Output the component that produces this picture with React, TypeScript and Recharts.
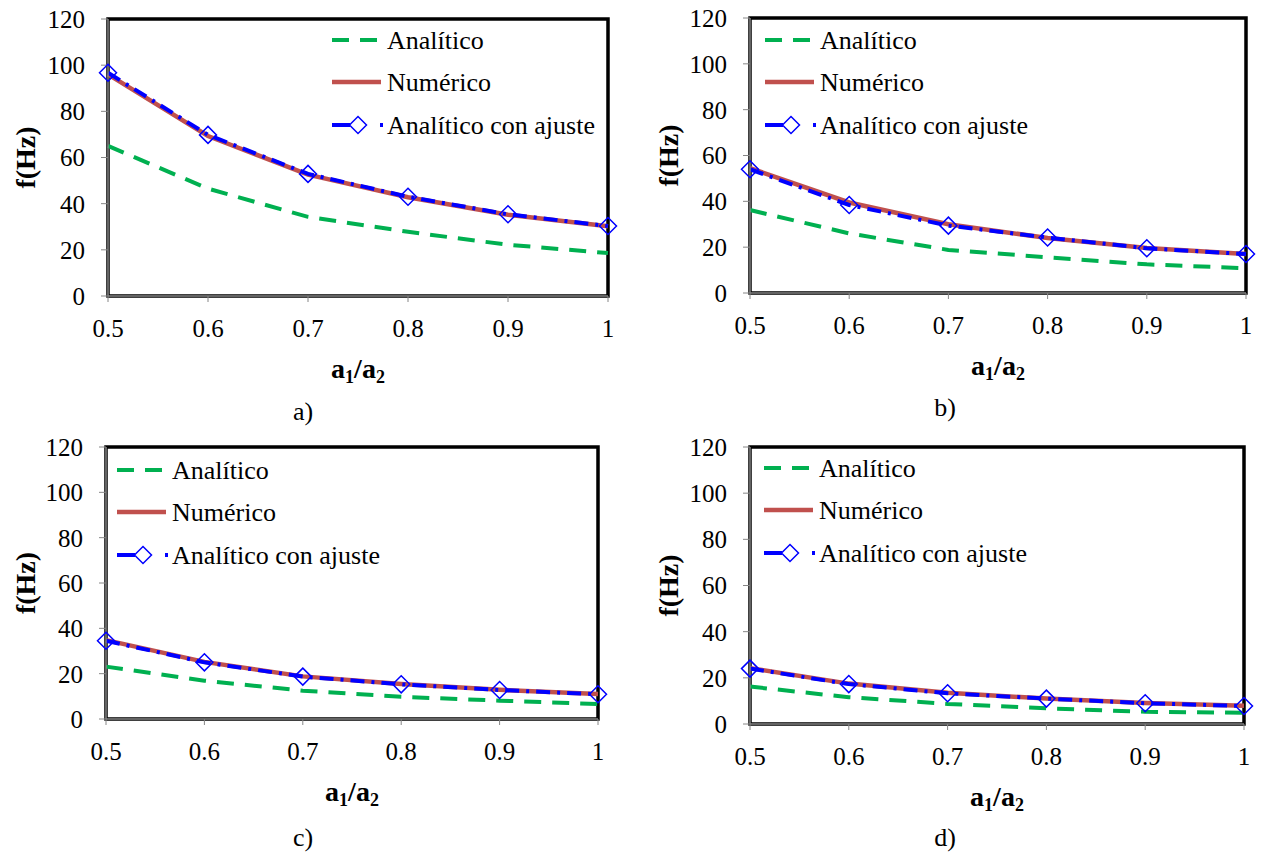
import React from 'react';
import { LineChart, Line, XAxis, YAxis, Legend, ReferenceArea, Label } from 'recharts';

// eje x: a1/a2
const ratio = [0.5, 0.6, 0.7, 0.8, 0.9, 1];
const yTicks = [0, 20, 40, 60, 80, 100, 120];

// a)
const analiticoA = [65, 46.5, 34.3, 27.8, 22.2, 18.6];
const numericoA = [96, 69.3, 52.6, 42.8, 35.2, 30.2];
const ajusteA = [96.7, 69.8, 52.9, 43, 35.4, 30.3];

// b)
const analiticoB = [36.2, 26, 18.8, 15.6, 12.5, 10.8];
const numericoB = [54.5, 39.5, 30, 24, 19.6, 17];
const ajusteB = [54, 38.4, 29.4, 24.2, 19.5, 17];

// c)
const analiticoC = [23.1, 16.9, 12.5, 9.8, 8.1, 6.6];
const numericoC = [34.8, 25.2, 18.8, 15.4, 12.9, 11];
const ajusteC = [34.5, 25, 18.7, 15.3, 12.8, 10.9];

// d)
const analiticoD = [16.2, 11.6, 8.7, 6.8, 5.3, 4.9];
const numericoD = [24.2, 17.5, 13.5, 11, 9.1, 7.9];
const ajusteD = [24, 17.3, 13.3, 11, 9, 7.8];

const seriesNames = ['Analítico', 'Numérico', 'Analítico con ajuste'];

const FONT = "'Liberation Serif', 'Times New Roman', serif";
const GREEN = '#00B050';
const RED = '#C0504D';
const BLUE = '#0000FF';
const AXIS = '#868686';

const W = 631;
const H = 428;

function buildRows(an: number[], nu: number[], aj: number[]) {
  return ratio.map((r, i) => ({ ratio: r, analitico: an[i], numerico: nu[i], ajuste: aj[i] }));
}

const Diamond = (props: any) => {
  const { cx, cy } = props;
  if (cx == null || cy == null) return null;
  const s = 8.5;
  return (
    <path
      d={`M${cx},${cy - s}L${cx + s},${cy}L${cx},${cy + s}L${cx - s},${cy}Z`}
      fill="none"
      stroke={BLUE}
      strokeWidth={1.5}
    />
  );
};

function LegendBox() {
  const rowY = [21, 63, 106];
  return (
    <svg width={330} height={130} style={{ display: 'block', overflow: 'visible', fontFamily: FONT }}>
      <line x1={0} x2={46} y1={rowY[0]} y2={rowY[0]} stroke={GREEN} strokeWidth={4} strokeDasharray="17 11" />
      <line x1={0} x2={49} y1={rowY[1]} y2={rowY[1]} stroke={RED} strokeWidth={4.5} />
      <line x1={0} x2={51} y1={rowY[2]} y2={rowY[2]} stroke={BLUE} strokeWidth={4} strokeDasharray="18 30 3" />
      <Diamond cx={26} cy={rowY[2]} />
      {seriesNames.map((n, i) => (
        <text key={n} x={55} y={rowY[i]} dominantBaseline="central" style={{ fontFamily: FONT, fontSize: 26 }} fill="#000">
          {n}
        </text>
      ))}
    </svg>
  );
}

interface PanelCfg {
  x: number;
  y: number;
  left: number;
  right: number;
  top: number;
  bottom: number;
  legendX: number;
  legendY: number;
  yLabelX: number;
  caption: string;
  captionX: number;
  captionY: number;
  rows: any[];
}

const tickStyle = { fill: '#000', fontSize: 25, fontFamily: FONT, style: { fontFamily: FONT } };

function Panel({ cfg }: { cfg: PanelCfg }) {
  const midX = (cfg.left + cfg.right) / 2;
  const midY = (cfg.top + cfg.bottom) / 2;
  return (
    <div style={{ position: 'absolute', left: cfg.x, top: cfg.y, width: W, height: H }}>
      <LineChart
        width={W}
        height={H}
        data={cfg.rows}
        margin={{ top: cfg.top, right: W - cfg.right, left: 0, bottom: H - cfg.bottom - 40 }}
        style={{ fontFamily: FONT }}
      >
        <XAxis
          type="number"
          dataKey="ratio"
          domain={[0.5, 1]}
          ticks={ratio}
          height={40}
          tickSize={6}
          tickMargin={17}
          axisLine={{ stroke: AXIS, strokeWidth: 1.5 }}
          tickLine={{ stroke: AXIS }}
          tick={tickStyle}
          tickFormatter={(v) => String(v)}
        >
          <Label
            content={() => (
              <g style={{ fontFamily: FONT }} fill="#000">
                <text x={midX} y={cfg.bottom + 82} textAnchor="middle" style={{ fontFamily: FONT, fontWeight: 'bold', fontSize: 28 }}>
                  a<tspan fontSize={18} dy={5}>1</tspan>
                  <tspan dy={-5}>/a</tspan>
                  <tspan fontSize={18} dy={5}>2</tspan>
                </text>
                <text x={cfg.captionX} y={cfg.captionY} textAnchor="middle" style={{ fontFamily: FONT, fontSize: 26 }}>
                  {cfg.caption}
                </text>
              </g>
            )}
          />
        </XAxis>
        <YAxis
          type="number"
          domain={[0, 120]}
          ticks={yTicks}
          width={cfg.left}
          tickSize={7}
          tickMargin={16}
          axisLine={{ stroke: AXIS, strokeWidth: 1.5 }}
          tickLine={{ stroke: AXIS }}
          tick={tickStyle}
        >
          <Label
            content={() => (
              <text
                x={cfg.yLabelX}
                y={midY}
                transform={`rotate(-90 ${cfg.yLabelX} ${midY})`}
                textAnchor="middle"
                dominantBaseline="central"
                style={{ fontFamily: FONT, fontWeight: 'bold', fontSize: 28 }}
                fill="#000"
              >
                f(Hz)
              </text>
            )}
          />
        </YAxis>
        <ReferenceArea x1={0.5} x2={1} y1={0} y2={120} fill="none" fillOpacity={0} stroke="#000" strokeWidth={3.5} />
        <Legend
          layout="vertical"
          align="center"
          verticalAlign="middle"
          content={() => <LegendBox />}
          wrapperStyle={{ left: cfg.legendX, top: cfg.legendY, width: 330, height: 130 }}
        />
        <Line
          type="linear"
          dataKey="analitico"
          name={seriesNames[0]}
          stroke={GREEN}
          strokeWidth={4}
          strokeDasharray="17 11"
          dot={false}
          activeDot={false}
          isAnimationActive={false}
        />
        <Line
          type="linear"
          dataKey="numerico"
          name={seriesNames[1]}
          stroke={RED}
          strokeWidth={4.5}
          dot={false}
          activeDot={false}
          isAnimationActive={false}
        />
        <Line
          type="linear"
          dataKey="ajuste"
          name={seriesNames[2]}
          stroke={BLUE}
          strokeWidth={4}
          strokeDasharray="14 7 3 7"
          dot={<Diamond />}
          activeDot={false}
          isAnimationActive={false}
        />
      </LineChart>
    </div>
  );
}

const panels: PanelCfg[] = [
  {
    x: 0, y: 0, left: 108, right: 608, top: 19, bottom: 296,
    legendX: 332, legendY: 19, yLabelX: 25,
    caption: 'a)', captionX: 303, captionY: 420,
    rows: buildRows(analiticoA, numericoA, ajusteA),
  },
  {
    x: 631, y: 0, left: 119, right: 615, top: 18, bottom: 293,
    legendX: 134, legendY: 19, yLabelX: 37,
    caption: 'b)', captionX: 314, captionY: 416,
    rows: buildRows(analiticoB, numericoB, ajusteB),
  },
  {
    x: 0, y: 428, left: 106, right: 598, top: 19, bottom: 291,
    legendX: 117, legendY: 21, yLabelX: 25,
    caption: 'c)', captionX: 303, captionY: 418,
    rows: buildRows(analiticoC, numericoC, ajusteC),
  },
  {
    x: 631, y: 428, left: 119, right: 613, top: 19, bottom: 296,
    legendX: 133, legendY: 19, yLabelX: 37,
    caption: 'd)', captionX: 314, captionY: 418,
    rows: buildRows(analiticoD, numericoD, ajusteD),
  },
];

export default function App() {
  return (
    <div style={{ position: 'absolute', left: 0, top: 0, width: 1262, height: 856, background: '#fff', fontFamily: FONT }}>
      {panels.map((p) => (
        <Panel key={p.caption} cfg={p} />
      ))}
    </div>
  );
}
